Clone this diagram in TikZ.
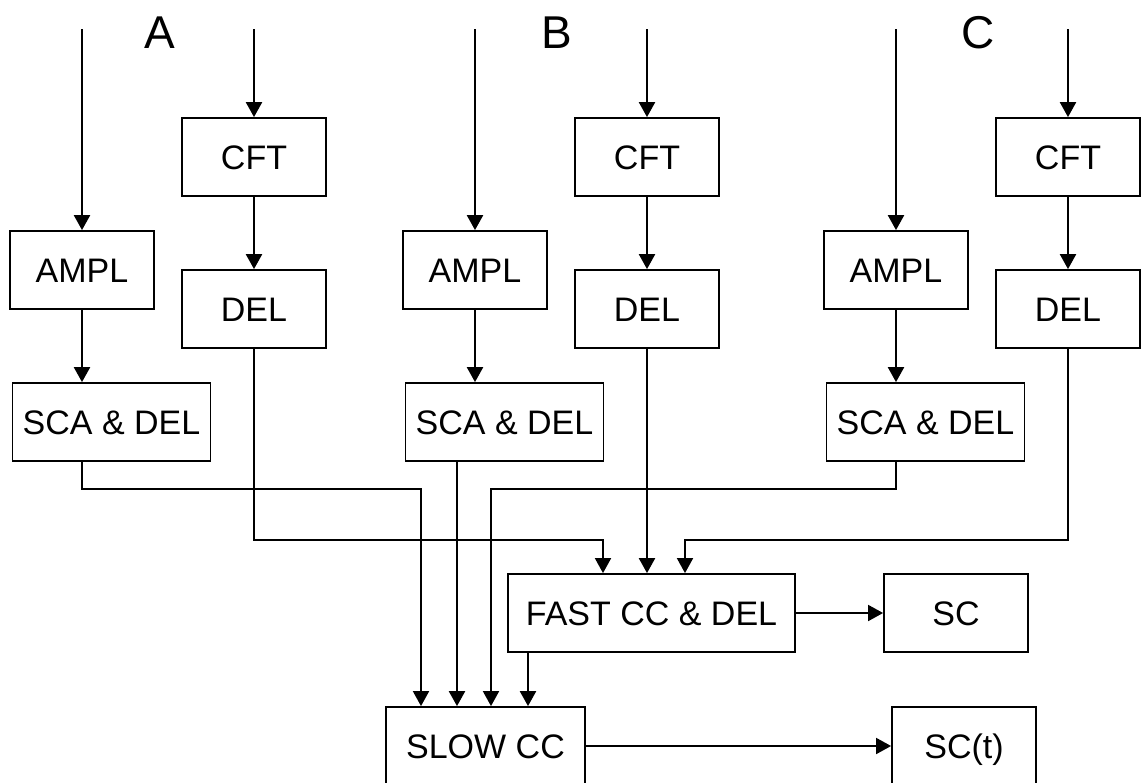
\documentclass[tikz,border=0pt]{standalone}
\usepackage{fontspec}
\setmainfont{Liberation Sans}
\usetikzlibrary{arrows.meta}

\begin{document}
\begin{tikzpicture}[
  x=1pt, y=-1pt, >={Triangle[length=15pt,width=16pt]},
  blk/.style={draw, line width=1.8pt, minimum height=78pt, minimum width=144pt, inner sep=0pt, text height=24pt, text depth=0pt, font=\fontsize{34}{40}\selectfont},
  wblk/.style={blk, minimum width=198pt},
  feed/.style={->, line width=2.3pt},
  bus/.style={->, line width=1.8pt},
  grp/.style={inner sep=0pt, font=\fontsize{46}{52}\selectfont},
]
\useasboundingbox (0,0) rectangle (1148,782);
\clip (0,0) rectangle (1148,782);
% channel labels
\node[grp] (labA) at (160,33) {A};
\node[grp] (labB) at (557,33) {B};
\node[grp] (labC) at (978,33) {C};
% channel A
\node[blk] (ampA) at (82,270) {AMPL};
\node[blk] (cftA) at (254,157) {CFT};
\node[blk] (delA) at (254,309) {DEL};
\node[wblk] (scaA) at (111.5,422) {SCA \& DEL};
% channel B
\node[blk] (ampB) at (475,270) {AMPL};
\node[blk] (cftB) at (647,157) {CFT};
\node[blk] (delB) at (647,309) {DEL};
\node[wblk] (scaB) at (504.5,422) {SCA \& DEL};
% channel C
\node[blk] (ampC) at (896,270) {AMPL};
\node[blk] (cftC) at (1068,157) {CFT};
\node[blk] (delC) at (1068,309) {DEL};
\node[wblk] (scaC) at (925.5,422) {SCA \& DEL};
% coincidence stages and outputs
\node[blk, minimum width=287pt] (fast) at (651.5,613) {FAST CC \& DEL};
\node[blk] (sc) at (956,613) {SC};
\node[blk, minimum width=199pt] (slow) at (485.5,746) {SLOW CC};
\node[blk] (sct) at (964,746) {SC(t)};
% free ends of the inputs, bus rows
\coordinate (inA) at (82,29);  \coordinate (tinA) at (254,29);
\coordinate (inB) at (475,29); \coordinate (tinB) at (647,29);
\coordinate (inC) at (896,29); \coordinate (tinC) at (1068,29);
\coordinate (busS) at (0,489);
\coordinate (busD) at (0,540);
% inputs and chains
\draw[feed] (inA) -- (ampA);
\draw[feed] (tinA) -- (cftA);
\draw[feed] (ampA.south) -- (ampA.south |- scaA.north);
\draw[feed] (cftA) -- (delA);
\draw[feed] (inB) -- (ampB);
\draw[feed] (tinB) -- (cftB);
\draw[feed] (ampB.south) -- (ampB.south |- scaB.north);
\draw[feed] (cftB) -- (delB);
\draw[feed] (inC) -- (ampC);
\draw[feed] (tinC) -- (cftC);
\draw[feed] (ampC.south) -- (ampC.south |- scaC.north);
\draw[feed] (cftC) -- (delC);
% slow inputs
\draw[bus] (ampA |- scaA.south) -- (ampA |- busS) -| ([xshift=-64.5pt]slow.north);
\draw[feed] ([xshift=-28.5pt]slow.north |- scaB.south) -- ([xshift=-28.5pt]slow.north);
\draw[bus] (ampC |- scaC.south) -- (ampC |- busS) -| ([xshift=5.5pt]slow.north);
\draw[feed] ([xshift=42.5pt]slow.north |- fast.south) -- ([xshift=42.5pt]slow.north);
% fast inputs
\draw[bus] (delA.south) -- (delA |- busD) -| ([xshift=-48.5pt]fast.north);
\draw[feed] (delB.south) -- (delB.south |- fast.north);
\draw[bus] (delC.south) -- (delC |- busD) -| ([xshift=33.5pt]fast.north);
% outputs
\draw[bus] (fast) -- (sc);
\draw[bus] (slow) -- (sct);
\end{tikzpicture}
\end{document}
